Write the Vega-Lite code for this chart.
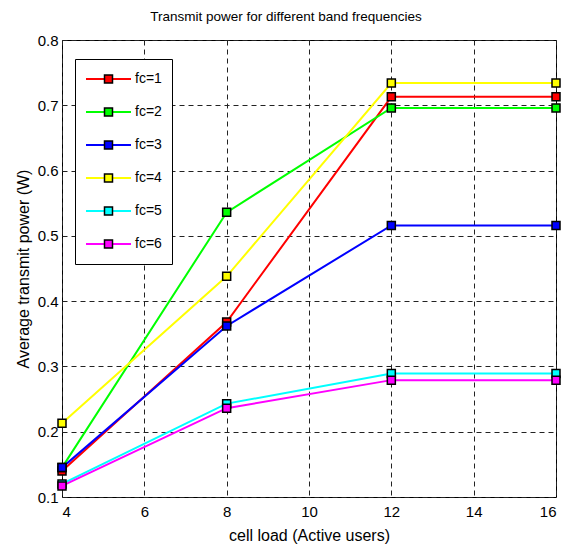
{
  "$schema": "https://vega.github.io/schema/vega-lite/v6.json",
  "autosize": "none",
  "width": 494,
  "height": 457,
  "padding": {"left": 62, "top": 40, "right": 7, "bottom": 47},
  "background": "white",
  "title": {"text": "Transmit power for different band frequencies", "font": "Liberation Sans", "fontSize": 13.5, "fontWeight": "normal", "color": "black", "offset": 10, "dx": -23},
  "config": {
    "view": {"stroke": "black", "strokeWidth": 1},
    "font": "Liberation Sans",
    "axis": {"domain": false, "ticks": false, "tickSize": 0, "grid": true, "gridColor": "#222", "gridDash": [5, 4], "gridWidth": 1, "gridOpacity": 1, "labelFont": "Liberation Sans", "labelFontSize": 15, "labelColor": "black", "titleFont": "Liberation Sans", "titleFontSize": 16, "titleFontWeight": "normal", "titleColor": "black"}
  },
  "data": {"values": [
    {"fc": "fc=1", "load": 4, "power": 0.140},
    {"fc": "fc=1", "load": 8, "power": 0.368},
    {"fc": "fc=1", "load": 12, "power": 0.713},
    {"fc": "fc=1", "load": 16, "power": 0.713},
    {"fc": "fc=2", "load": 4, "power": 0.145},
    {"fc": "fc=2", "load": 8, "power": 0.536},
    {"fc": "fc=2", "load": 12, "power": 0.696},
    {"fc": "fc=2", "load": 16, "power": 0.696},
    {"fc": "fc=3", "load": 4, "power": 0.145},
    {"fc": "fc=3", "load": 8, "power": 0.362},
    {"fc": "fc=3", "load": 12, "power": 0.516},
    {"fc": "fc=3", "load": 16, "power": 0.516},
    {"fc": "fc=4", "load": 4, "power": 0.213},
    {"fc": "fc=4", "load": 8, "power": 0.438},
    {"fc": "fc=4", "load": 12, "power": 0.734},
    {"fc": "fc=4", "load": 16, "power": 0.734},
    {"fc": "fc=5", "load": 4, "power": 0.120},
    {"fc": "fc=5", "load": 8, "power": 0.243},
    {"fc": "fc=5", "load": 12, "power": 0.289},
    {"fc": "fc=5", "load": 16, "power": 0.289},
    {"fc": "fc=6", "load": 4, "power": 0.117},
    {"fc": "fc=6", "load": 8, "power": 0.236},
    {"fc": "fc=6", "load": 12, "power": 0.279},
    {"fc": "fc=6", "load": 16, "power": 0.279}
  ]},
  "encoding": {
    "x": {"field": "load", "type": "quantitative", "title": "cell load (Active users)",
      "scale": {"domain": [4, 16], "nice": false, "zero": false},
      "axis": {"values": [4, 6, 8, 10, 12, 14, 16], "labelPadding": 7, "titlePadding": 8}},
    "y": {"field": "power", "type": "quantitative", "title": "Average transmit power (W)",
      "scale": {"domain": [0.1, 0.8], "nice": false, "zero": false},
      "axis": {"values": [0.1, 0.2, 0.3, 0.4, 0.5, 0.6, 0.7, 0.8], "format": ".1f", "labelPadding": 4, "titlePadding": 6}}
  },
  "layer": [
    {
      "mark": {"type": "line", "strokeWidth": 2},
      "encoding": {
        "stroke": {"field": "fc", "type": "nominal",
          "scale": {"domain": ["fc=1", "fc=2", "fc=3", "fc=4", "fc=5", "fc=6"], "range": ["#ff0000", "#00ff00", "#0000ff", "#ffff00", "#00ffff", "#ff00ff"]},
          "legend": {"title": null, "orient": "none", "legendX": 13, "legendY": 19, "zindex": 1,
            "symbolType": "stroke", "symbolSize": 2025, "symbolStrokeWidth": 2,
            "labelFont": "Liberation Sans", "labelFontSize": 14, "labelColor": "black", "labelOffset": 3,
            "padding": 10, "rowPadding": 13, "clipHeight": 20,
            "fillColor": "white", "strokeColor": "black", "cornerRadius": 0}}
      }
    },
    {
      "mark": {"type": "point", "shape": "square", "filled": true, "size": 64, "stroke": "black", "strokeWidth": 1.5, "opacity": 1},
      "encoding": {
        "fill": {"field": "fc", "type": "nominal",
          "scale": {"range": ["#ff0000", "#00ff00", "#0000ff", "#ffff00", "#00ffff", "#ff00ff"]},
          "legend": {"title": null, "orient": "none", "legendX": 29.5, "legendY": 19, "zindex": 2,
            "symbolType": "square", "symbolSize": 64, "symbolStrokeColor": "black", "symbolStrokeWidth": 1.5, "symbolOpacity": 1,
            "labelFont": "Liberation Sans", "labelFontSize": 14, "labelOpacity": 0, "labelExpr": "''",
            "padding": 10, "rowPadding": 13, "clipHeight": 20}}
      }
    }
  ]
}
